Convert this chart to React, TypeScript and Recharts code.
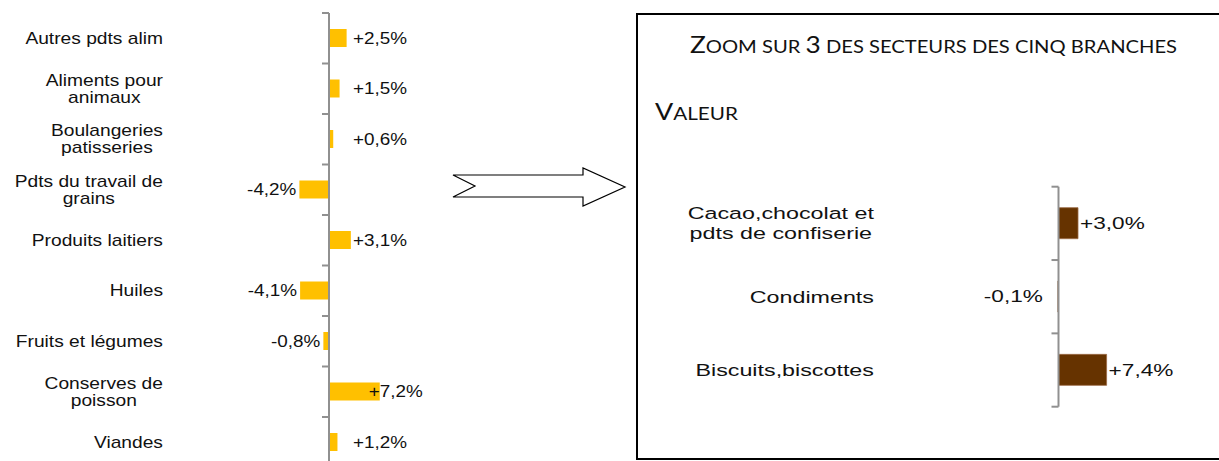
import React from 'react';
import { BarChart, Bar, XAxis, YAxis, ReferenceLine, LabelList } from 'recharts';

// ---------- DATA ----------
const leftCategories = [
  'Autres pdts alim',
  'Aliments pour\nanimaux',
  'Boulangeries\npatisseries',
  'Pdts du travail de\ngrains',
  'Produits laitiers',
  'Huiles',
  'Fruits et légumes',
  'Conserves de\npoisson',
  'Viandes',
];
const leftValues = [2.5, 1.5, 0.6, -4.2, 3.1, -4.1, -0.8, 7.2, 1.2];

const rightCategories = ['Cacao,chocolat et\npdts de confiserie', 'Condiments', 'Biscuits,biscottes'];
const rightValues = [3.0, -0.1, 7.4];

const titleParts = [
  { t: 'Z', big: true },
  { t: 'OOM SUR ', big: false },
  { t: '3', big: true },
  { t: ' DES SECTEURS DES CINQ BRANCHES', big: false },
];
const subtitleParts = [
  { t: 'V', big: true },
  { t: 'ALEUR', big: false },
];

const leftData = leftCategories.map((name, i) => ({ name, value: leftValues[i] }));
const rightData = rightCategories.map((name, i) => ({ name, value: rightValues[i] }));

const fmt = (v: number) => (v > 0 ? '+' : '') + v.toFixed(1).replace('.', ',') + '%';

// ---------- helpers ----------
let ctx: CanvasRenderingContext2D | null = null;
function measure(text: string, font: string) {
  if (!ctx) ctx = document.createElement('canvas').getContext('2d');
  if (!ctx) return text.length * 8;
  ctx.font = font;
  return ctx.measureText(text).width;
}

const FONT = "'Liberation Sans', Arial, sans-serif";

type Cfg = {
  width: number;
  height: number;
  top: number;
  bottom: number;
  yW: number;
  right: number;
  domain: [number, number];
  fontSize: number;
  sx: number;
  valSx: number;
  labelGap: number;
  lineHeight: number;
  count: number;
  posMinGap: number;
  posGap: number;
  negGap: number;
  fill: string;
  stroke: string;
  barSize: number;
};

function zeroOf(c: Cfg) {
  const plotW = c.width - c.yW - c.right;
  return c.yW + (plotW * (0 - c.domain[0])) / (c.domain[1] - c.domain[0]);
}
function bandOf(c: Cfg) {
  return (c.height - c.top - c.bottom) / c.count;
}

function makeTick(c: Cfg) {
  const zeroX = zeroOf(c);
  const band = bandOf(c);
  const font = `${c.fontSize}px ${FONT}`;
  return (props: any) => {
    const { y, payload } = props;
    const idx = payload?.index ?? props.index ?? 0;
    const lines = String(payload.value).split('\n');
    const widths = lines.map((l) => measure(l, font) * c.sx);
    const blockW = Math.max(...widths);
    const cx = zeroX - c.labelGap - blockW / 2;
    const y0 = y - ((lines.length - 1) * c.lineHeight) / 2;
    const half = band / 2;
    return (
      <g>
        {lines.map((l, i) => (
          <text
            key={i}
            transform={`translate(${cx},${y0 + i * c.lineHeight}) scale(${c.sx},1)`}
            textAnchor="middle"
            dy="0.35em"
            fontSize={c.fontSize}
            fontFamily={FONT}
            fill="#111"
          >
            {l}
          </text>
        ))}
        <line x1={zeroX - 7} x2={zeroX} y1={y - half} y2={y - half} stroke="#909090" strokeWidth={2} />
        {idx === c.count - 1 && (
          <line x1={zeroX - 7} x2={zeroX} y1={y + half} y2={y + half} stroke="#909090" strokeWidth={2} />
        )}
      </g>
    );
  };
}

function makeLabel(c: Cfg) {
  const zeroX = zeroOf(c);
  return (props: any) => {
    const vb = props.viewBox || {};
    const x = props.x ?? vb.x;
    const y = props.y ?? vb.y;
    const w = props.width ?? vb.width;
    const h = props.height ?? vb.height;
    const v = Number(props.value);
    const l = Math.min(x, x + w);
    const r = Math.max(x, x + w);
    const cy = y + h / 2;
    if (v >= 0) {
      const px = Math.max(zeroX + c.posMinGap, r + c.posGap);
      return (
        <text
          transform={`translate(${px},${cy}) scale(${c.valSx},1)`}
          textAnchor="start"
          dy="0.35em"
          fontSize={c.fontSize}
          fontFamily={FONT}
          fill="#111"
        >
          {fmt(v)}
        </text>
      );
    }
    return (
      <text
        transform={`translate(${l - c.negGap},${cy}) scale(${c.valSx},1)`}
        textAnchor="end"
        dy="0.35em"
        fontSize={c.fontSize}
        fontFamily={FONT}
        fill="#111"
      >
        {fmt(v)}
      </text>
    );
  };
}

function HBarChart({ c, data }: { c: Cfg; data: { name: string; value: number }[] }) {
  const Tick = makeTick(c);
  const Label = makeLabel(c);
  return (
    <BarChart
      width={c.width}
      height={c.height}
      data={data}
      layout="vertical"
      margin={{ top: c.top, right: c.right, bottom: c.bottom, left: 0 }}
    >
      <XAxis type="number" domain={c.domain} hide />
      <YAxis
        type="category"
        dataKey="name"
        width={c.yW}
        axisLine={false}
        tickLine={false}
        interval={0}
        tick={<Tick />}
      />
      <ReferenceLine x={0} stroke="#909090" strokeWidth={2} />
      <Bar
        dataKey="value"
        fill={c.fill}
        stroke={c.stroke}
        strokeWidth={c.stroke === 'none' ? 0 : 0.8}
        barSize={c.barSize}
        isAnimationActive={false}
      >
        <LabelList dataKey="value" content={<Label />} />
      </Bar>
    </BarChart>
  );
}

const leftCfg: Cfg = {
  width: 480,
  height: 470,
  top: 13,
  bottom: 2.5,
  yW: 188,
  right: 10,
  domain: [-20, 20],
  fontSize: 16,
  sx: 1.2,
  valSx: 1.18,
  labelGap: 166,
  lineHeight: 17,
  count: leftData.length,
  posMinGap: 24,
  posGap: -11,
  negGap: 3,
  fill: '#FFC000',
  stroke: 'none',
  barSize: 18,
};

const rightCfg: Cfg = {
  width: 540,
  height: 420,
  top: 186.7,
  bottom: 13.3,
  yW: 333.5,
  right: 76.5,
  domain: [-10, 10],
  fontSize: 17,
  sx: 1.37,
  valSx: 1.33,
  labelGap: 184.5,
  lineHeight: 20,
  count: rightData.length,
  posMinGap: 0,
  posGap: 2,
  negGap: 15,
  fill: '#663300',
  stroke: '#9a6a45',
  barSize: 31,
};

const TFONT = "Lato, 'Open Sans', sans-serif";

export default function App() {
  return (
    <div
      style={{
        position: 'absolute',
        left: 0,
        top: 0,
        width: 1219,
        height: 461,
        overflow: 'hidden',
        background: '#fff',
      }}
    >
      <div
        style={{
          position: 'absolute',
          left: 636,
          top: 13,
          width: 700,
          height: 447,
          border: '2px solid #000',
          boxSizing: 'border-box',
        }}
      />
      <div style={{ position: 'absolute', left: 0, top: 0 }}>
        <HBarChart c={leftCfg} data={leftData} />
      </div>
      <div style={{ position: 'absolute', left: 660, top: 0 }}>
        <HBarChart c={rightCfg} data={rightData} />
      </div>
      <svg
        width={1219}
        height={461}
        style={{ position: 'absolute', left: 0, top: 0, pointerEvents: 'none' }}
      >
        <polygon
          points="453,175 583,175 583,168 625,187 583,206 583,197 453,197 475,186"
          fill="#fff"
          stroke="#000"
          strokeWidth={1.2}
        />
        <text x={690} y={53.3} fontFamily={TFONT} fill="#111" textLength={487} lengthAdjust="spacingAndGlyphs">
          {titleParts.map((p, i) => (
            <tspan key={i} fontSize={p.big ? 23 : 17.7}>
              {p.t}
            </tspan>
          ))}
        </text>
        <text x={655} y={120} fontFamily={TFONT} fill="#111" textLength={83} lengthAdjust="spacingAndGlyphs">
          {subtitleParts.map((p, i) => (
            <tspan key={i} fontSize={p.big ? 23 : 17.7}>
              {p.t}
            </tspan>
          ))}
        </text>
      </svg>
    </div>
  );
}
